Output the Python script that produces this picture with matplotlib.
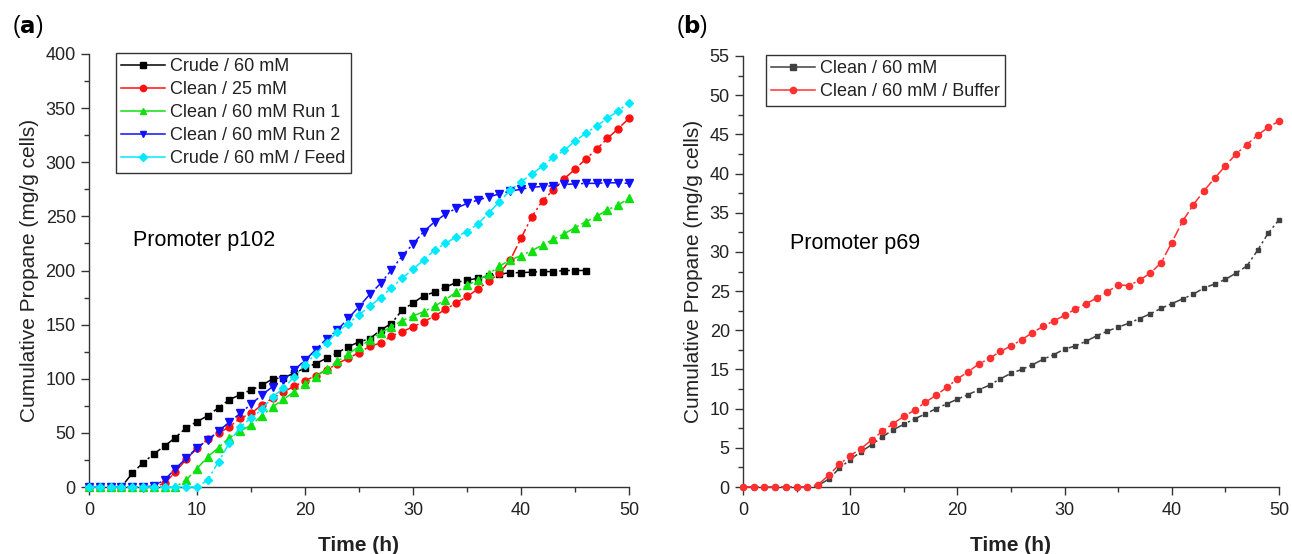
import matplotlib
matplotlib.use("Agg")
import matplotlib.pyplot as plt
from matplotlib.ticker import MultipleLocator

plt.rcParams['font.family'] = ['Liberation Sans', 'DejaVu Sans']

# ---- data: panel (a), promoter p102 (hourly samples) ----
hours_a = list(range(0, 51))
hours_crude = list(range(0, 47))
crude_60 = [0, 0, 0, 0, 12.6, 22.4, 30.5, 37.9, 45.6, 54.8, 60.3, 65.9, 73.3, 80.7,
            85.3, 89.6, 94, 99.8, 101, 105, 110, 114, 119, 124, 129.6, 134, 137, 145,
            151, 163.5, 170, 176.7, 180, 184.5, 189, 191, 192.8, 195, 196.5, 198, 198,
            198.5, 199, 199, 200, 200, 200]
clean_25 = [0, 0, 0, 0, 0, 0, 0, 3.4, 14, 25.5, 35.7, 44, 49.6, 55.7, 63.4, 68, 75.7,
            82, 88, 93, 98, 103, 108, 114, 119, 124, 130, 133, 139.5, 143.5, 148, 152.7,
            158, 164, 170, 176, 182.6, 190, 197.4, 209.7, 229.7, 249.7, 264.5, 274.4,
            284.8, 293.5, 303, 312, 322, 331, 340.6]
clean_60_run1 = [0, 0, 0, 0, 0, 0, 0, 0, 0, 6.5, 17, 28, 36.3, 45.5, 51.7, 57, 66, 74,
                 81, 88, 95, 102, 109, 116, 123, 129.6, 135.8, 142.5, 148, 153.7, 158,
                 162, 167, 173, 180, 186.6, 191, 196.7, 204, 209.7, 213.7, 218.3, 223.5,
                 228.8, 234, 239.5, 245, 250, 256, 260.5, 266.7]
clean_60_run2 = [0, 0, 0, 0, 0, 0, 1, 6.5, 17, 26.5, 36.3, 43.4, 51.7, 60, 68, 76.4, 85,
                 92.7, 99, 108, 117, 127, 137, 145, 155.8, 166.6, 178, 188, 200.5, 213.4,
                 224.5, 236, 245, 252, 257.5, 262, 265, 268, 270.7, 273.4, 275, 277,
                 277.5, 278.4, 279.5, 280, 280.5, 280.5, 281, 281, 280.5]
crude_60_feed = [0, 0, 0, 0, 0, 0, 0, 0, 0, 0, 0, 6.5, 23.4, 41, 55.7, 63.4, 71.8, 83.4,
                 91, 102, 113, 123, 133, 143.5, 151, 159, 167, 175, 184, 193, 201, 210,
                 219, 225, 231, 236, 243, 253, 263.5, 274, 282, 289, 296.5, 304.6, 311,
                 319.6, 326.7, 333.5, 340.6, 347.6, 355]

# ---- data: panel (b), promoter p69 ----
hours_b = list(range(0, 51))
clean_60_b = [0, 0, 0, 0, 0, 0, 0, 0.2, 1.0, 2.4, 3.5, 4.5, 5.4, 6.4, 7.3, 8.0, 8.7, 9.3,
              10.0, 10.6, 11.2, 11.8, 12.4, 13.0, 13.8, 14.5, 15.0, 15.6, 16.3, 16.9,
              17.6, 18.0, 18.6, 19.3, 19.9, 20.4, 20.9, 21.5, 22.1, 22.8, 23.4, 24.0,
              24.6, 25.4, 25.9, 26.5, 27.3, 28.2, 30.2, 32.4, 34.1]
clean_60_buffer = [0, 0, 0, 0, 0, 0, 0, 0.3, 1.5, 2.9, 4.0, 4.9, 6.0, 7.1, 8.1, 9.0, 9.8,
                   10.8, 11.7, 12.7, 13.8, 14.7, 15.7, 16.4, 17.3, 18.0, 18.8, 19.7, 20.5,
                   21.2, 21.9, 22.7, 23.4, 24.1, 24.9, 25.8, 25.7, 26.4, 27.3, 28.6, 31.2,
                   33.9, 36.0, 37.8, 39.4, 41.0, 42.5, 43.7, 44.9, 45.9, 46.7]

dashdot = (0, (7, 2, 1.5, 2))
TXT = '#222222'

fig = plt.figure(figsize=(12.92, 5.54), dpi=100)
ax_a = fig.add_axes([89 / 1292, 1 - 487 / 554, (629 - 89) / 1292, (487 - 54) / 554])
ax_b = fig.add_axes([743 / 1292, 1 - 487 / 554, (1279 - 743) / 1292, (487 - 56) / 554])

series_a = [
    (hours_crude, crude_60, 'Crude / 60 mM', 'black', 's', 4.6),
    (hours_a, clean_25, 'Clean / 25 mM', '#ff1010', 'o', 5.0),
    (hours_a, clean_60_run1, 'Clean / 60 mM Run 1', '#10e010', '^', 5.2),
    (hours_a, clean_60_run2, 'Clean / 60 mM Run 2', '#1010ff', 'v', 5.2),
    (hours_a, crude_60_feed, 'Crude / 60 mM / Feed', '#00eaff', 'D', 4.2),
]
for x, y, lab, col, mk, ms in series_a:
    ax_a.plot(x, y, linestyle=dashdot, lw=1.1, color=col, marker=mk,
              markersize=ms, label=lab, clip_on=False, zorder=3)

ax_b.plot(hours_b, clean_60_b, linestyle=dashdot, lw=1.1, color='#404040', marker='s',
          markersize=3.5, label='Clean / 60 mM', clip_on=False, zorder=3)
ax_b.plot(hours_b, clean_60_buffer, linestyle=dashdot, lw=1.1, color='#ff3030', marker='o',
          markersize=4.5, label='Clean / 60 mM / Buffer', clip_on=False, zorder=3)

for ax, ymax, ymaj, ymin in [(ax_a, 400, 50, 25), (ax_b, 55, 5, 2.5)]:
    ax.set_xlim(0, 50)
    ax.set_ylim(0, ymax)
    ax.xaxis.set_major_locator(MultipleLocator(10))
    ax.xaxis.set_minor_locator(MultipleLocator(5))
    ax.yaxis.set_major_locator(MultipleLocator(ymaj))
    ax.yaxis.set_minor_locator(MultipleLocator(ymin))
    ax.spines['top'].set_visible(False)
    ax.spines['right'].set_visible(False)
    for s in ('left', 'bottom'):
        ax.spines[s].set_color('#333333')
        ax.spines[s].set_linewidth(1.0)
    ax.tick_params(which='major', direction='out', length=6, width=1, labelsize=13,
                   colors='#333333', labelcolor=TXT)
    ax.tick_params(axis='x', which='major', pad=5)
    ax.tick_params(which='minor', direction='out', length=3.5, width=1, colors='#333333')
    ax.set_xlabel('Time (h)', fontsize=15, fontweight='bold', color=TXT, labelpad=12)
    ax.set_ylabel('Cumulative Propane (mg/g cells)', fontsize=15, color=TXT, labelpad=5)

ax_a.text(0.081, 0.57, 'Promoter p102', transform=ax_a.transAxes, fontsize=15.5,
          color='black', va='center')
ax_b.text(0.088, 0.565, 'Promoter p69', transform=ax_b.transAxes, fontsize=15.5,
          color='black', va='center')

fig.text(12 / 1292, 1 - 26 / 554, r'($\bf{a}$)', fontsize=16.5, va='center', ha='left')
fig.text(676 / 1292, 1 - 26 / 554, r'($\bf{b}$)', fontsize=16.5, va='center', ha='left')

leg_kw = dict(loc='upper left', bbox_transform=fig.transFigure, borderaxespad=0,
              fontsize=13, numpoints=1, handlelength=2.4, handletextpad=0.3,
              labelspacing=0.33, borderpad=0.3, fancybox=False, framealpha=1,
              edgecolor='#333333')
leg_a = ax_a.legend(bbox_to_anchor=(116 / 1292, 1 - 53 / 554), **leg_kw)
leg_b = ax_b.legend(bbox_to_anchor=(766 / 1292, 1 - 55 / 554), **leg_kw)
for leg in (leg_a, leg_b):
    leg.get_frame().set_linewidth(1.0)
    for line in leg.get_lines():
        line.set_linestyle('-')
        line.set_markersize(4.5)
    for t in leg.get_texts():
        t.set_color(TXT)

fig.savefig('out.png', dpi=100)
